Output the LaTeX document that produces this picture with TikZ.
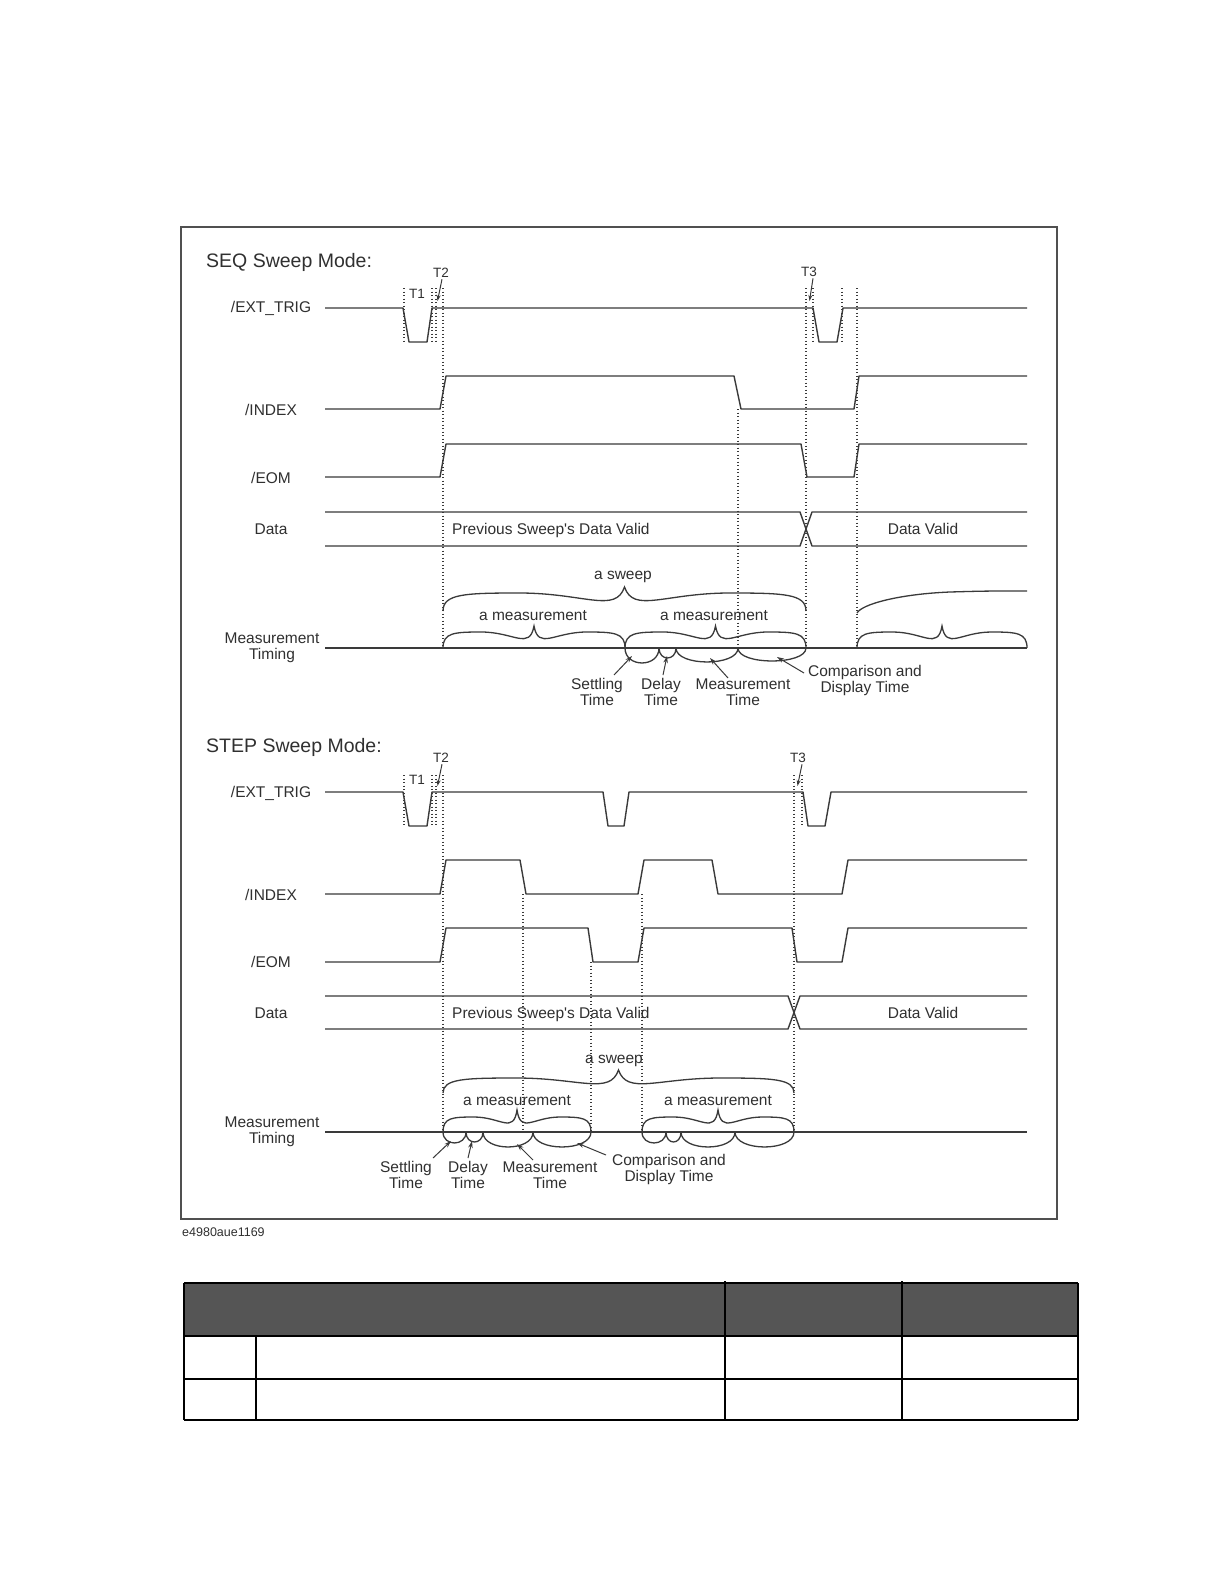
\documentclass[tikz,border=0pt]{standalone}
\usepackage{fontspec}
\setmainfont{Liberation Sans}
\usetikzlibrary{arrows.meta}
\definecolor{lc}{HTML}{3A3A3A}
\definecolor{tc}{HTML}{303030}
\definecolor{fc}{HTML}{505050}
\definecolor{hd}{HTML}{555555}
\tikzset{
  sig/.style={line width=1.4pt, draw=lc, line join=round},
  dotln/.style={line width=1.1pt, draw=lc, dash pattern=on 1.1pt off 2.4pt},
  brc/.style={line width=1.3pt, draw=lc},
  arr/.style={line width=1pt, draw=lc, -{Stealth[length=7pt,width=4.5pt]}},
  tarr/.style={line width=1pt, draw=lc, -{Stealth[length=6pt,width=4pt]}},
  lbl/.style={font=\fontsize{15.5}{16}\selectfont, text=tc, inner sep=0pt, align=center},
  ttl/.style={font=\fontsize{19.5}{22}\selectfont, text=tc, inner sep=0pt},
  tlab/.style={font=\fontsize{13.5}{15}\selectfont, text=tc, inner sep=0pt},
  tbl/.style={line width=1.5pt, draw=black}
}
\newcommand\mybrace[5]{%
\pgfmathsetmacro\bA{#1}\pgfmathsetmacro\bB{#2}\pgfmathsetmacro\bY{#3}%
\pgfmathsetmacro\bAm{#4}\pgfmathsetmacro\bT{#5}%
\pgfmathsetmacro\bL{(\bB-\bA)/2}\pgfmathsetmacro\bM{(\bA+\bB)/2}%
\draw[brc] (\bA,\bY) .. controls (\bA,\bY-0.95*\bAm) and (\bA+0.12*\bL,\bY-\bAm) .. (\bA+0.42*\bL,\bY-\bAm)
 .. controls (\bA+0.78*\bL,\bY-\bAm) and (\bA+0.95*\bL,\bY+0.15*\bAm) .. (\bM,\bY-\bT)
 .. controls (\bB-0.95*\bL,\bY+0.15*\bAm) and (\bB-0.78*\bL,\bY-\bAm) .. (\bB-0.42*\bL,\bY-\bAm)
 .. controls (\bB-0.12*\bL,\bY-\bAm) and (\bB,\bY-0.95*\bAm) .. (\bB,\bY);}
\newcommand\mybowl[4]{\draw[brc] (#1,#3) .. controls (#1,#3+1.33*#4) and (#2,#3+1.33*#4) .. (#2,#3);}
\begin{document}
\begin{tikzpicture}[x=1pt,y=-1pt]
\useasboundingbox[fill=white] (0,0) rectangle (1224,1584);
% frame
\draw[line width=2.5pt, draw=fc] (181,227) rectangle (1057,1219);

%================ SEQ =================
\node[ttl, anchor=base west] (seqt) at (206,267) {SEQ Sweep Mode:};
\node[lbl, anchor=base] (s_ext) at (271,312) {/EXT\_TRIG};
\node[lbl, anchor=base] (s_idx) at (271,415) {/INDEX};
\node[lbl, anchor=base] (s_eom) at (271,483) {/EOM};
\node[lbl, anchor=base] (s_dat) at (271,534) {Data};
\node[lbl, anchor=base] (s_mt) at (272,659) {Measurement\\Timing};

% signals
\draw[sig] (325,308) -- (403,308) -- (409,342) -- (427,342) -- (432,308) -- (813,308) -- (819,342) -- (837,342) -- (843,308) -- (1027,308);
\draw[sig] (325,409) -- (440,409) -- (446,376) -- (734,376) -- (741,409) -- (854,409) -- (859,376) -- (1027,376);
\draw[sig] (325,477) -- (440,477) -- (446,444) -- (801,444) -- (807,477) -- (854,477) -- (859,444) -- (1027,444);
\draw[sig] (325,512) -- (800,512) -- (812,546) -- (1027,546);
\draw[sig] (325,546) -- (800,546) -- (812,512) -- (1027,512);
\draw[sig] (325,648) -- (1027,648);

% dotted
\foreach \x in {404,432,436,813,842} \draw[dotln] (\x,288) -- (\x,343);
\foreach \x in {443,806,857} \draw[dotln] (\x,288) -- (\x,648);
\draw[dotln] (738,409) -- (738,648);

% T labels
\node[tlab, anchor=base] (s_t1) at (417,298) {T1};
\node[tlab, anchor=base] (s_t2) at (441,277) {T2};
\node[tlab, anchor=base] (s_t3) at (809,276) {T3};
\coordinate (s_t2h) at (437.5,301);
\coordinate (s_t3h) at (809.5,301);
\draw[tarr] (s_t2.south) ++(1,2) -- (s_t2h);
\draw[tarr] (s_t3.south) ++(4,2) -- (s_t3h);

% data texts
\node[lbl, anchor=base west] (s_prev) at (452,534) {Previous Sweep\textquotesingle s Data Valid};
\node[lbl, anchor=base] (s_dv) at (923,534) {Data Valid};

% braces
\node[lbl, anchor=base] (s_sw) at (623,579) {a sweep};
\mybrace{443}{806}{611}{18}{24}
\node[lbl, anchor=base] (s_m1) at (533,620) {a measurement};
\node[lbl, anchor=base] (s_m2) at (714,620) {a measurement};
\mybrace{443}{625}{648}{16}{22}
\mybrace{625}{806}{648}{16}{22}
\mybrace{857}{1027}{648}{16}{22}
\draw[brc] (857,613) .. controls (862,604) and (900,594) .. (950,592) .. controls (985,591) .. (1027,591);
\mybowl{625}{659}{648}{15}
\mybowl{659}{676}{648}{10}
\mybowl{676}{738}{648}{14}
\mybowl{738}{806}{648}{13}

% bottom labels
\node[lbl, anchor=base] (s_set) at (597,705) {Settling\\Time};
\node[lbl, anchor=base] (s_del) at (661,705) {Delay\\Time};
\node[lbl, anchor=base] (s_mea) at (743,705) {Measurement\\Time};
\node[lbl, anchor=base] (s_cmp) at (865,692) {Comparison and\\Display Time};
\coordinate (s_seth) at (632,656); \coordinate (s_sett) at (614,675);
\coordinate (s_delh) at (667,656); \coordinate (s_delt) at (663,675);
\coordinate (s_meah) at (710,658); \coordinate (s_meat) at (728,678);
\coordinate (s_cmph) at (777,657); \coordinate (s_cmpt) at (804,673);
\draw[arr] (s_sett) -- (s_seth);
\draw[arr] (s_delt) -- (s_delh);
\draw[arr] (s_meat) -- (s_meah);
\draw[arr] (s_cmpt) -- (s_cmph);

%================ STEP =================
\node[ttl, anchor=base west] (stpt) at (206,752) {STEP Sweep Mode:};
\node[lbl, anchor=base] (p_ext) at (271,797) {/EXT\_TRIG};
\node[lbl, anchor=base] (p_idx) at (271,900) {/INDEX};
\node[lbl, anchor=base] (p_eom) at (271,967) {/EOM};
\node[lbl, anchor=base] (p_dat) at (271,1018) {Data};
\node[lbl, anchor=base] (p_mt) at (272,1143) {Measurement\\Timing};

\draw[sig] (325,792) -- (403,792) -- (409,826) -- (427,826) -- (432,792) -- (603,792) -- (608,826) -- (624,826) -- (629,792) -- (803,792) -- (808,826) -- (825,826) -- (831,792) -- (1027,792);
\draw[sig] (325,894) -- (440,894) -- (446,860) -- (520,860) -- (526,894) -- (638,894) -- (644,860) -- (712,860) -- (718,894) -- (842,894) -- (848,860) -- (1027,860);
\draw[sig] (325,962) -- (440,962) -- (446,928) -- (588,928) -- (593,962) -- (638,962) -- (644,928) -- (792,928) -- (797,962) -- (842,962) -- (848,928) -- (1027,928);
\draw[sig] (325,996) -- (788,996) -- (800,1029) -- (1027,1029);
\draw[sig] (325,1029) -- (788,1029) -- (800,996) -- (1027,996);
\draw[sig] (325,1132) -- (1027,1132);

\foreach \x in {404,432,436,802} \draw[dotln] (\x,775) -- (\x,827);
\foreach \x in {443,794} \draw[dotln] (\x,775) -- (\x,1132);
\draw[dotln] (523,894) -- (523,1132);
\draw[dotln] (642,894) -- (642,1132);
\draw[dotln] (591,962) -- (591,1132);

\node[tlab, anchor=base] (p_t1) at (417,784) {T1};
\node[tlab, anchor=base] (p_t2) at (441,762) {T2};
\node[tlab, anchor=base] (p_t3) at (798,762) {T3};
\coordinate (p_t2h) at (437.5,786);
\coordinate (p_t3h) at (797.5,786);
\draw[tarr] (p_t2.south) ++(1,2) -- (p_t2h);
\draw[tarr] (p_t3.south) ++(4,2) -- (p_t3h);

\node[lbl, anchor=base west] (p_prev) at (452,1018) {Previous Sweep\textquotesingle s Data Valid};
\node[lbl, anchor=base] (p_dv) at (923,1018) {Data Valid};

\node[lbl, anchor=base] (p_sw) at (614,1063) {a sweep};
\mybrace{443}{794}{1093}{15}{23}
\node[lbl, anchor=base] (p_m1) at (517,1105) {a measurement};
\node[lbl, anchor=base] (p_m2) at (718,1105) {a measurement};
\mybrace{443}{591}{1132}{15}{22}
\mybrace{642}{794}{1132}{15}{22}
\mybowl{443}{466}{1132}{11}
\mybowl{466}{483}{1132}{10}
\mybowl{483}{533}{1132}{15}
\mybowl{533}{591}{1132}{15}
\mybowl{642}{666}{1132}{11}
\mybowl{666}{681}{1132}{10}
\mybowl{681}{735}{1132}{15}
\mybowl{735}{794}{1132}{15}

\node[lbl, anchor=base] (p_set) at (406,1188) {Settling\\Time};
\node[lbl, anchor=base] (p_del) at (468,1188) {Delay\\Time};
\node[lbl, anchor=base] (p_mea) at (550,1188) {Measurement\\Time};
\node[lbl, anchor=base] (p_cmp) at (669,1181) {Comparison and\\Display Time};
\coordinate (p_seth) at (451,1141); \coordinate (p_sett) at (433,1158);
\coordinate (p_delh) at (472,1141); \coordinate (p_delt) at (468,1158);
\coordinate (p_meah) at (517,1144); \coordinate (p_meat) at (533,1160);
\coordinate (p_cmph) at (577,1143); \coordinate (p_cmpt) at (606,1155);
\draw[arr] (p_sett) -- (p_seth);
\draw[arr] (p_delt) -- (p_delh);
\draw[arr] (p_meat) -- (p_meah);
\draw[arr] (p_cmpt) -- (p_cmph);

\node[anchor=base west, inner sep=0pt, font=\fontsize{12.5}{14}\selectfont, text=tc] (figid) at (182,1236) {e4980aue1169};

%================ TABLE =================
\fill[hd] (184,1283) rectangle (1078,1336);
\draw[tbl] (184,1283) -- (1078,1283);
\draw[tbl] (184,1336) -- (1078,1336);
\draw[tbl] (184,1379) -- (1078,1379);
\draw[tbl] (184,1420) -- (1078,1420);
\draw[tbl] (184,1283) -- (184,1420);
\draw[tbl] (1078,1283) -- (1078,1420);
\draw[tbl] (256,1336) -- (256,1420);
\draw[tbl] (725,1281) -- (725,1420);
\draw[tbl] (902,1281) -- (902,1420);
\end{tikzpicture}
\end{document}
